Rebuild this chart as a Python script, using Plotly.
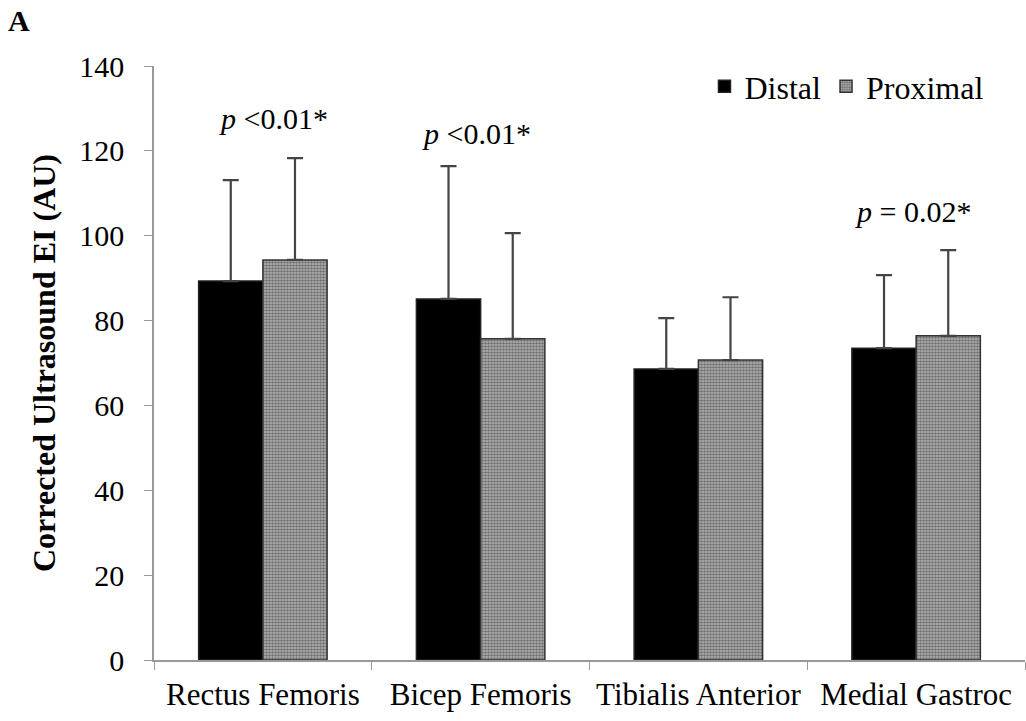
import plotly.graph_objects as go

categories = ["Rectus Femoris", "Bicep Femoris", "Tibialis Anterior", "Medial Gastroc"]
distal_mean = [89.3, 85.1, 68.6, 73.5]
distal_sd = [23.8, 31.3, 12.0, 17.2]
proximal_mean = [94.3, 75.7, 70.7, 76.4]
proximal_sd = [24.0, 24.9, 14.8, 20.2]
y_ticks = [0, 20, 40, 60, 80, 100, 120, 140]
p_labels = ["<i>p</i> <0.01*", "<i>p</i> <0.01*", None, "<i>p</i> = 0.02*"]
p_y = [127.7, 124.2, None, 105.8]
p_xshift = [11, -4, 0, -3]

FONT = "Liberation Serif"

fig = go.Figure()
fig.add_trace(go.Bar(
    name="Distal", x=categories, y=distal_mean,
    marker=dict(color="black", line=dict(color="#222", width=1.5)),
    error_y=dict(type="data", symmetric=False, array=distal_sd,
                 arrayminus=[0]*4, color="#444", thickness=2.2, width=8),
))
fig.add_trace(go.Bar(
    name="Proximal", x=categories, y=proximal_mean,
    marker=dict(color="white", line=dict(color="#333", width=1.5),
                pattern=dict(shape=".", size=3, solidity=0.6,
                             fgcolor="#2a2a2a", bgcolor="#b8b8b8")),
    error_y=dict(type="data", symmetric=False, array=proximal_sd,
                 arrayminus=[0]*4, color="#444", thickness=2.2, width=8),
))

annotations = []
for i, lab in enumerate(p_labels):
    if lab is None:
        continue
    annotations.append(dict(x=categories[i], y=p_y[i], xref="x", yref="y",
                            text=lab, showarrow=False, xshift=p_xshift[i],
                            font=dict(family=FONT, size=30, color="black")))
annotations.append(dict(x=-148/871, y=1 + 64/594, xref="paper", yref="paper",
                        text="<b>A</b>", showarrow=False,
                        xanchor="left", yanchor="top",
                        font=dict(family=FONT, size=30, color="black")))

fig.update_layout(
    width=1026, height=721,
    margin=dict(l=154, r=1, t=66, b=61, autoexpand=False),
    plot_bgcolor="white", paper_bgcolor="white",
    barmode="group", bargap=0.41, bargroupgap=0,
    font=dict(family=FONT, size=28, color="black"),
    showlegend=True,
    legend=dict(orientation="h", x=0.632, y=1.012, xanchor="left", yanchor="top",
                font=dict(family=FONT, size=32, color="black"),
                bgcolor="rgba(0,0,0,0)", itemwidth=30, traceorder="normal"),
    xaxis=dict(type="category", tickson="boundaries", ticks="outside", ticklen=8,
               tickcolor="#999", showline=True, linecolor="#999", linewidth=1.5,
               tickfont=dict(family=FONT, size=31, color="black"),
               tickangle=0, automargin=False, ticklabelstandoff=6,
               showgrid=False, range=[-0.5, 3.5]),
    yaxis=dict(range=[0, 140], tickvals=y_ticks, ticks="outside", ticklen=8,
               tickcolor="#999", showline=True, linecolor="#999", linewidth=1.5,
               showgrid=False, zeroline=False, automargin=False,
               tickfont=dict(family=FONT, size=30, color="black"),
               ticklabelstandoff=14,
               title=dict(text="<b>Corrected Ultrasound EI (AU)</b>",
                          font=dict(family=FONT, size=32, color="black"),
                          standoff=14)),
    annotations=annotations,
)

fig.write_html("out.html")
